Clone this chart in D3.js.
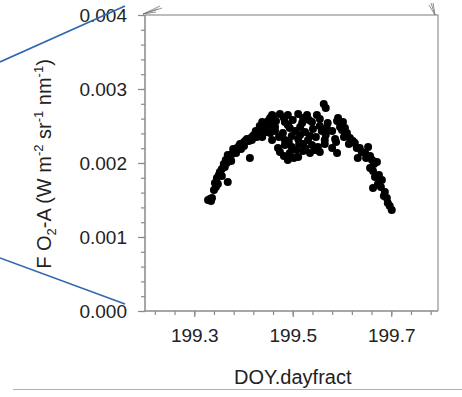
<!DOCTYPE html>
<html>
<head>
<meta charset="utf-8">
<script src="https://cdn.jsdelivr.net/npm/d3@7"></script>
<style>
  body { margin: 0; background: #fff; }
  svg text { font-family: "Liberation Sans", Arial, sans-serif; fill: #222; }
</style>
</head>
<body>
<div id="chart"></div>
<script>
// DOY (fraction of day) and F O2-A readings
const doy = [
  199.328, 199.332, 199.336, 199.334, 199.340, 199.344, 199.342, 199.348, 199.346, 199.350,
  199.356, 199.352, 199.356, 199.362, 199.360, 199.366, 199.364, 199.371, 199.375, 199.368,
  199.377, 199.381, 199.385, 199.379, 199.387, 199.391, 199.395, 199.393, 199.399, 199.403,
  199.401, 199.407, 199.411, 199.415, 199.413, 199.419, 199.417, 199.423, 199.427, 199.425,
  199.431, 199.435, 199.433, 199.440, 199.442, 199.446, 199.438, 199.450, 199.448, 199.454,
  199.456, 199.460, 199.368,
  199.458, 199.474, 199.490, 199.511, 199.529, 199.549,
  199.450, 199.466, 199.484, 199.500, 199.519, 199.539, 199.555, 199.571, 199.590,
  199.448, 199.464, 199.480, 199.494, 199.505, 199.525, 199.541, 199.559, 199.580,
  199.458, 199.472, 199.484, 199.498, 199.511, 199.531, 199.547, 199.565, 199.586,
  199.470, 199.484, 199.498, 199.513, 199.525, 199.539, 199.551, 199.565, 199.580,
  199.482, 199.494, 199.511, 199.535, 199.555, 199.563, 199.567,
  199.490, 199.502, 199.474, 199.521, 199.545, 199.590, 199.438, 199.454, 199.490, 199.515,
  199.569, 199.602, 199.533,
  199.482, 199.521, 199.464, 199.515, 199.492, 199.535, 199.555, 199.521, 199.507, 199.567,
  199.596,
  199.592, 199.598, 199.600, 199.588, 199.606, 199.610, 199.604, 199.616, 199.614, 199.622,
  199.626, 199.630, 199.636, 199.632, 199.640, 199.647, 199.653, 199.649, 199.657, 199.661,
  199.665, 199.671, 199.657, 199.663, 199.667, 199.675, 199.681, 199.673, 199.663, 199.679,
  199.687, 199.685, 199.691, 199.693, 199.697, 199.701
];
const fo2a = [
  0.001500, 0.001514, 0.001527, 0.001486, 0.001635, 0.001676, 0.001730, 0.001716, 0.001797, 0.001838,
  0.001824, 0.001878, 0.001919, 0.001946, 0.001986, 0.002000, 0.002041, 0.002068, 0.002027, 0.002108,
  0.002122, 0.002162, 0.002135, 0.002189, 0.002203, 0.002230, 0.002189, 0.002257, 0.002270, 0.002297,
  0.002230, 0.002324, 0.002297, 0.002338, 0.002068, 0.002365, 0.002311, 0.002392, 0.002351, 0.002432,
  0.002405, 0.002459, 0.002500, 0.002432, 0.002486, 0.002527, 0.002554, 0.002568, 0.002459, 0.002608,
  0.002514, 0.002635, 0.001743,
  0.002649, 0.002662, 0.002649, 0.002662, 0.002649, 0.002649,
  0.002541, 0.002568, 0.002554, 0.002581, 0.002541, 0.002554, 0.002595, 0.002541, 0.002568,
  0.002419, 0.002432, 0.002405, 0.002473, 0.002432, 0.002419, 0.002459, 0.002432, 0.002432,
  0.002311, 0.002351, 0.002311, 0.002365, 0.002324, 0.002311, 0.002351, 0.002311, 0.002324,
  0.002203, 0.002243, 0.002216, 0.002257, 0.002203, 0.002243, 0.002216, 0.002257, 0.002203,
  0.002095, 0.002135, 0.002081, 0.002135, 0.002149, 0.002797, 0.002743,
  0.002041, 0.002068, 0.002149, 0.002162, 0.002176, 0.002135, 0.002351, 0.002405, 0.002514, 0.002486,
  0.002473, 0.002554, 0.002581,
  0.002608, 0.002608, 0.002486, 0.002378, 0.002284, 0.002365, 0.002500, 0.002257, 0.002176, 0.002378,
  0.002486,
  0.002608, 0.002514, 0.002446, 0.002284, 0.002473, 0.002405, 0.002351, 0.002338, 0.002257, 0.002297,
  0.002270, 0.002203, 0.002203, 0.002068, 0.002149, 0.002135, 0.002216, 0.002068, 0.002095, 0.002041,
  0.001986, 0.002014, 0.001932, 0.001892, 0.001811, 0.001838, 0.001770, 0.001716, 0.001662, 0.001676,
  0.001608, 0.001554, 0.001527, 0.001459, 0.001419, 0.001365
];
const xMajor = [199.3, 199.5, 199.7];
const xMinor = d3.range(199.22, 199.79, 0.04);
const yMajor = [0, 0.001, 0.002, 0.003, 0.004];
const yMinor = d3.range(0, 0.00401, 0.0002);

const width = 462, height = 397;
const plotL = 145, plotR = 438, plotT = 15, plotB = 311;

const svg = d3.select("#chart").append("svg")
  .attr("width", width)
  .attr("height", height);

const x = d3.scaleLinear().domain([199.2, 199.8]).range([plotL, 440.5]);
const y = d3.scaleLinear().domain([0, 0.004]).range([plotB, plotT]);

// slide separator line
svg.append("line")
  .attr("x1", 13).attr("x2", width).attr("y1", 389.5).attr("y2", 389.5)
  .attr("stroke", "#b0b0b0").attr("stroke-width", 1.2);

// box (top and right)
svg.append("path")
  .attr("d", `M${plotL},${plotT}H${plotR}V${plotB}`)
  .attr("fill", "none").attr("stroke", "#a8a8a8").attr("stroke-width", 1.5);

// y axis
const yAxisMinor = d3.axisLeft(y).tickValues(yMinor).tickSize(4).tickFormat("");
const yAxisMajor = d3.axisLeft(y).tickValues(yMajor).tickSize(7).tickPadding(11)
  .tickFormat(d3.format(".3f"));
svg.append("g").attr("transform", `translate(${plotL},0)`).call(yAxisMinor)
  .call(g => g.select(".domain").remove());
const gy = svg.append("g").attr("transform", `translate(${plotL},0)`).call(yAxisMajor);
gy.selectAll("text").attr("font-size", 19).attr("font-family", "Liberation Sans, Arial, sans-serif");

// x axis
const xAxisMinor = d3.axisBottom(x).tickValues(xMinor).tickSize(4).tickFormat("");
const xAxisMajor = d3.axisBottom(x).tickValues(xMajor).tickSize(6).tickPadding(12)
  .tickFormat(d3.format(".1f"));
svg.append("g").attr("transform", `translate(0,${plotB})`).call(xAxisMinor)
  .call(g => g.select(".domain").remove());
const gx = svg.append("g").attr("transform", `translate(0,${plotB})`).call(xAxisMajor);
gx.selectAll("text").attr("font-size", 19).attr("font-family", "Liberation Sans, Arial, sans-serif");

svg.selectAll(".domain").attr("stroke", "#8a8a8a").attr("stroke-width", 1.5);
svg.selectAll(".tick line").attr("stroke", "#8a8a8a").attr("stroke-width", 1.2);
gx.select(".domain").attr("d", `M${plotL},0H${plotR}`);
gy.select(".domain").attr("d", `M0,${plotB}V${plotT}`);

// points
svg.append("g")
  .selectAll("circle")
  .data(doy.map((d, i) => [d, fo2a[i]]))
  .enter().append("circle")
  .attr("cx", d => x(d[0]))
  .attr("cy", d => y(d[1]))
  .attr("r", 4)
  .attr("fill", "#000");

// axis titles
svg.append("text")
  .attr("x", x(199.5))
  .attr("y", 384)
  .attr("text-anchor", "middle")
  .attr("font-size", 20)
  .text("DOY.dayfract");

const yl = svg.append("text")
  .attr("transform", "translate(51,164) rotate(-90)")
  .attr("text-anchor", "middle")
  .attr("font-size", 20);
yl.append("tspan").text("F O");
yl.append("tspan").attr("font-size", 13).attr("dy", 5).text("2");
yl.append("tspan").attr("dy", -5).text("-A (W m");
yl.append("tspan").attr("font-size", 13).attr("dy", -8).text("-2");
yl.append("tspan").attr("dy", 8).text(" sr");
yl.append("tspan").attr("font-size", 13).attr("dy", -8).text("-1");
yl.append("tspan").attr("dy", 8).text(" nm");
yl.append("tspan").attr("font-size", 13).attr("dy", -8).text("-1");
yl.append("tspan").attr("dy", 8).text(")");

// blue zoom lines from the slide
const blue = "#2f67b1";
svg.append("line").attr("x1", 0).attr("y1", 62).attr("x2", 125).attr("y2", 6)
  .attr("stroke", blue).attr("stroke-width", 1.6);
svg.append("line").attr("x1", 0).attr("y1", 258).attr("x2", 125).attr("y2", 304)
  .attr("stroke", blue).attr("stroke-width", 1.6);

// small gray fan marks at top corners
const fan = svg.append("g").attr("stroke", "#777").attr("stroke-width", 0.8).attr("fill", "none");
[[160, 6], [158, 9], [156, 12], [162, 8]].forEach(p => {
  fan.append("line").attr("x1", plotL - 2).attr("y1", plotT - 1).attr("x2", p[0]).attr("y2", p[1]);
});
[[431, 3], [433, 3], [429, 5]].forEach(p => {
  fan.append("line").attr("x1", 435).attr("y1", plotT).attr("x2", p[0]).attr("y2", p[1]);
});
</script>
</body>
</html>
